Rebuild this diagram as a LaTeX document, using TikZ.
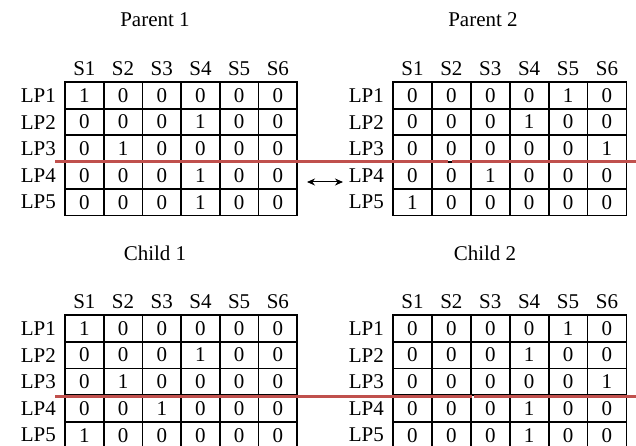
\documentclass[tikz,border=0pt]{standalone}
\usepackage{fontspec}
\setmainfont{Liberation Serif}
\usetikzlibrary{arrows.meta}
\definecolor{cutred}{RGB}{192,80,77}
\tikzset{
  gridline/.style={line width=1.8pt, black, line cap=rect},
  cell/.style={inner sep=0pt, font=\fontsize{21}{25}\selectfont},
  rowlab/.style={inner sep=0pt, anchor=east, font=\fontsize{21}{25}\selectfont},
  ttl/.style={inner sep=0pt, font=\fontsize{21}{25}\selectfont},
  cutline/.style={cutred, line width=3pt},
  swaparrow/.style={{Stealth[length=8pt,width=7pt]}-{Stealth[length=8pt,width=7pt]}, line width=1pt}
}
\newcommand\mytable[5]{%
  \foreach \rw [count=\r] in {#5} {
    \foreach \v [count=\c] in \rw {
      \node[cell] (#1-\r-\c) at ({#2+(\c-0.5)*#4},{#3+(\r-0.5)*26.7}) {\v};
    }
    \node[rowlab] (#1-lp\r) at ({#2-9},{#3+(\r-0.5)*26.7}) {LP\r};
  }
  \foreach \c in {1,...,6} \node[cell] (#1-s\c) at ({#2+(\c-0.5)*#4},{#3-13}) {S\c};
  \foreach \k in {0,...,6} \draw[gridline] ({#2+\k*#4},#3) -- ({#2+\k*#4},{#3+5*26.7});
  \foreach \k in {0,...,5} \draw[gridline] (#2,{#3+\k*26.7}) -- ({#2+6*#4},{#3+\k*26.7});
}
\begin{document}
\begin{tikzpicture}[x=1pt,y=-1pt]
\useasboundingbox (0,0) rectangle (636,446);
\clip (0,0) rectangle (636,446);
\fill[white] (0,0) rectangle (636,446);

\node[ttl] (tp1) at (155,20) {Parent 1};
\node[ttl] (tp2) at (483,20) {Parent 2};
\node[ttl] (tc1) at (155,253) {Child 1};
\node[ttl] (tc2) at (485,253) {Child 2};

\mytable{p1}{65}{82}{38.7}{{1,0,0,0,0,0},{0,0,0,1,0,0},{0,1,0,0,0,0},{0,0,0,1,0,0},{0,0,0,1,0,0}}
\mytable{p2}{393}{82}{38.9}{{0,0,0,0,1,0},{0,0,0,1,0,0},{0,0,0,0,0,1},{0,0,1,0,0,0},{1,0,0,0,0,0}}
\mytable{c1}{65}{315}{38.7}{{1,0,0,0,0,0},{0,0,0,1,0,0},{0,1,0,0,0,0},{0,0,1,0,0,0},{1,0,0,0,0,0}}
\mytable{c2}{393}{315}{38.9}{{0,0,0,0,1,0},{0,0,0,1,0,0},{0,0,0,0,0,1},{0,0,0,1,0,0},{0,0,0,1,0,0}}

\coordinate (pcutA) at (55,161.5);
\coordinate (pcutB) at (448,161.5);
\coordinate (pcutC) at (452,161.5);
\coordinate (pcutD) at (640,161.5);
\draw[cutline] (pcutA) -- (pcutB);
\draw[cutline] (pcutC) -- (pcutD);

\coordinate (ccutA) at (55,396);
\coordinate (ccutB) at (471.5,396);
\coordinate (ccutC) at (474,396);
\coordinate (ccutD) at (640,396);
\draw[cutline] (ccutA) -- (ccutB);
\draw[cutline] (ccutC) -- (ccutD);

\coordinate (arrL) at (307,182);
\coordinate (arrR) at (343,182);
\draw[swaparrow] (arrL) -- (arrR);
\end{tikzpicture}
\end{document}
